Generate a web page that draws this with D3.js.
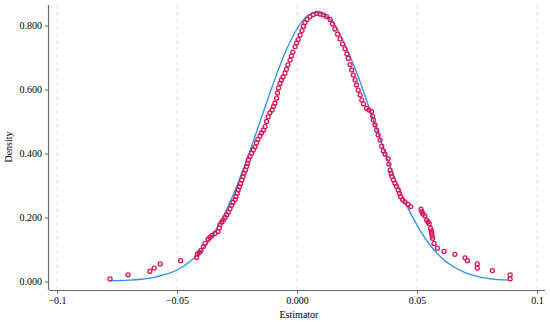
<!DOCTYPE html>
<html>
<head>
<meta charset="utf-8">
<script src="https://cdn.jsdelivr.net/npm/d3@7"></script>
<style>
  html, body { margin: 0; padding: 0; background: #fff; }
  svg { display: block; }
  text { font-family: "Liberation Serif", "Times New Roman", serif; fill: #000; }
</style>
</head>
<body>
<svg id="chart" width="550" height="322"></svg>
<script>
// x ticks and their labels, as printed on the chart
const xTicks = [-0.1, -0.05, 0, 0.05, 0.1];
const xTickLabels = ['\u22120.1', '\u22120.05', '0.000', '0.05', '0.1'];
const yTicks = [0, 0.2, 0.4, 0.6, 0.8];

// Kernel density estimate, drawn as hollow markers [estimator, density]
const kdensityPoints = [
    [-0.0779, 0.008], [-0.0704, 0.021], [-0.0613, 0.032], [-0.0595, 0.042], [-0.0570, 0.055],
    [-0.0485, 0.065], [-0.0418, 0.075], [-0.0415, 0.086], [-0.0407, 0.091], [-0.0400, 0.097],
    [-0.0390, 0.109], [-0.0383, 0.119], [-0.0370, 0.132], [-0.0363, 0.138], [-0.0354, 0.144],
    [-0.0342, 0.150], [-0.0329, 0.156], [-0.0324, 0.167], [-0.0321, 0.178], [-0.0313, 0.186],
    [-0.0307, 0.192], [-0.0300, 0.200], [-0.0293, 0.208], [-0.0286, 0.217], [-0.0279, 0.227],
    [-0.0272, 0.238], [-0.0267, 0.247], [-0.0258, 0.256], [-0.0254, 0.266], [-0.0249, 0.276],
    [-0.0245, 0.286], [-0.0240, 0.296], [-0.0235, 0.306], [-0.0230, 0.317], [-0.0225, 0.328],
    [-0.0221, 0.338], [-0.0215, 0.348], [-0.0210, 0.359], [-0.0206, 0.369], [-0.0203, 0.380],
    [-0.0196, 0.391], [-0.0189, 0.401], [-0.0182, 0.411], [-0.0175, 0.421], [-0.0169, 0.433],
    [-0.0163, 0.444], [-0.0154, 0.455], [-0.0148, 0.464], [-0.0140, 0.473], [-0.0133, 0.484],
    [-0.0127, 0.500], [-0.0120, 0.515], [-0.0113, 0.527], [-0.0104, 0.536], [-0.0098, 0.547],
    [-0.0092, 0.557], [-0.0085, 0.573], [-0.0081, 0.589], [-0.0077, 0.605], [-0.0071, 0.619],
    [-0.0065, 0.630], [-0.0058, 0.639], [-0.0050, 0.651], [-0.0044, 0.663], [-0.0038, 0.677],
    [-0.0029, 0.692], [-0.0023, 0.705], [-0.0017, 0.717], [-0.0008, 0.734], [-0.0002, 0.745],
    [0.0005, 0.756], [0.0013, 0.770], [0.0021, 0.784], [0.0027, 0.797], [0.0033, 0.809],
    [0.0042, 0.819], [0.0054, 0.828], [0.0067, 0.834], [0.0082, 0.838], [0.0096, 0.836],
    [0.0110, 0.833], [0.0123, 0.828], [0.0138, 0.819], [0.0148, 0.805], [0.0158, 0.789],
    [0.0169, 0.773], [0.0179, 0.758], [0.0190, 0.742], [0.0200, 0.727], [0.0208, 0.711],
    [0.0214, 0.697], [0.0221, 0.678], [0.0228, 0.661], [0.0235, 0.645], [0.0242, 0.630],
    [0.0248, 0.614], [0.0255, 0.598], [0.0263, 0.583], [0.0270, 0.567], [0.0277, 0.555],
    [0.0290, 0.541], [0.0300, 0.536], [0.0311, 0.531], [0.0315, 0.517], [0.0318, 0.505],
    [0.0325, 0.489], [0.0332, 0.473], [0.0338, 0.458], [0.0346, 0.442], [0.0353, 0.423],
    [0.0360, 0.408], [0.0367, 0.398], [0.0380, 0.384], [0.0383, 0.367], [0.0388, 0.348],
    [0.0392, 0.338], [0.0395, 0.328], [0.0402, 0.317], [0.0408, 0.307], [0.0415, 0.297],
    [0.0422, 0.286], [0.0427, 0.275], [0.0432, 0.265], [0.0440, 0.256], [0.0450, 0.249],
    [0.0463, 0.241], [0.0474, 0.234], [0.0517, 0.226], [0.0520, 0.218], [0.0525, 0.211],
    [0.0533, 0.205], [0.0540, 0.192], [0.0546, 0.186], [0.0551, 0.180], [0.0557, 0.166],
    [0.0560, 0.158], [0.0561, 0.151], [0.0563, 0.142], [0.0565, 0.135], [0.0571, 0.119],
    [0.0585, 0.104], [0.0613, 0.094], [0.0658, 0.085], [0.0700, 0.074], [0.0710, 0.065],
    [0.0751, 0.055], [0.0751, 0.042], [0.0814, 0.034], [0.0888, 0.021], [0.0888, 0.008]
];

// Normal density overlay [estimator, density]
const normalCurve = [
    [-0.0775, 0.002], [-0.070, 0.004], [-0.065, 0.007], [-0.060, 0.012], [-0.055, 0.022],
    [-0.050, 0.036], [-0.045, 0.060], [-0.040, 0.095], [-0.035, 0.146], [-0.030, 0.214],
    [-0.025, 0.300], [-0.020, 0.400], [-0.015, 0.508], [-0.010, 0.616], [-0.005, 0.714],
    [0.000, 0.789], [0.004, 0.828], [0.008, 0.840], [0.012, 0.830], [0.016, 0.800],
    [0.020, 0.740], [0.025, 0.650], [0.030, 0.545], [0.035, 0.438], [0.040, 0.336],
    [0.045, 0.248], [0.050, 0.176], [0.055, 0.118], [0.060, 0.076], [0.065, 0.047],
    [0.070, 0.028], [0.075, 0.016], [0.080, 0.009], [0.0885, 0.004]
];

const svg = d3.select('#chart');
const plot = { left: 49, right: 545, top: 5, bottom: 290 };

const x = d3.scaleLinear().domain([-0.1, 0.1]).range([57, 537]);
const y = d3.scaleLinear().domain([0, 0.8]).range([281.5, 25.5]);

const markColor = '#dc1257';
const lineColor = '#2e8ef0';
const axisColor = '#6b6b6b';

// Vertical dashed gridlines at the x ticks
svg.append('g')
    .selectAll('line')
    .data(xTicks)
    .join('line')
    .attr('x1', d => x(d))
    .attr('x2', d => x(d))
    .attr('y1', plot.top)
    .attr('y2', plot.bottom)
    .style('stroke', '#e4e4e4')
    .style('stroke-width', 1)
    .style('stroke-dasharray', '4, 3');

// Normal curve
const line = d3.line()
    .x(d => x(d[0]))
    .y(d => y(d[1]))
    .curve(d3.curveMonotoneX);

svg.append('path')
    .datum(normalCurve)
    .attr('d', line)
    .style('fill', 'none')
    .style('stroke', lineColor)
    .style('stroke-width', 1.3);

// Hollow markers for the kernel density
svg.append('g')
    .selectAll('circle')
    .data(kdensityPoints)
    .join('circle')
    .attr('cx', d => x(d[0]))
    .attr('cy', d => y(d[1]))
    .attr('r', 2)
    .style('fill', 'none')
    .style('stroke', markColor)
    .style('stroke-width', 1.3);

// Axes
const xAxis = d3.axisBottom(x)
    .tickValues(xTicks)
    .tickFormat((d, i) => xTickLabels[i])
    .tickSize(4)
    .tickSizeOuter(0);

const yAxis = d3.axisLeft(y)
    .tickValues(yTicks)
    .tickFormat(d3.format('.3f'))
    .tickSize(4)
    .tickSizeOuter(0);

const gx = svg.append('g')
    .attr('transform', `translate(0, ${plot.bottom})`)
    .call(xAxis);
gx.select('.domain').attr('d', `M${plot.left},0.5H${plot.right}`);

const gy = svg.append('g')
    .attr('transform', `translate(${plot.left}, 0)`)
    .call(yAxis);
gy.select('.domain').attr('d', `M-0.5,${plot.top}V${plot.bottom}`);

[gx, gy].forEach(g => {
    g.select('.domain').style('stroke', axisColor).style('stroke-width', 1.2);
    g.selectAll('.tick line').style('stroke', axisColor);
    g.selectAll('.tick text')
        .style('font-family', '"Liberation Serif", serif')
        .style('font-size', '10px')
        .style('fill', '#000');
});
gx.selectAll('.tick text').attr('dy', '0.71em').attr('y', 7);
gy.selectAll('.tick text').attr('x', -7);

// Axis titles
svg.append('text')
    .attr('x', (plot.left + plot.right) / 2 + 2)
    .attr('y', 318)
    .attr('text-anchor', 'middle')
    .style('font-size', '10px')
    .text('Estimator');

svg.append('text')
    .attr('transform', 'translate(12, 147) rotate(-90)')
    .attr('text-anchor', 'middle')
    .style('font-size', '10px')
    .text('Density');
</script>
</body>
</html>
